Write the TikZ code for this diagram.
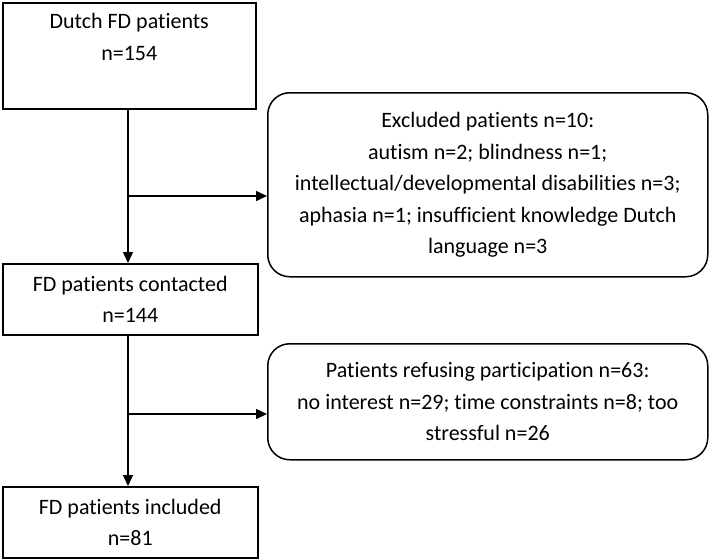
\documentclass[tikz,border=0pt]{standalone}
\usepackage{fontspec}
\setmainfont{Carlito}[Ligatures=NoCommon]
\usetikzlibrary{arrows.meta}

\begin{document}
\begin{tikzpicture}[x=1pt, y=-1pt, line width=1.5pt,
  every node/.style={font=\fontsize{22}{31.5}\selectfont, align=center, inner sep=0pt},
  box/.style={draw, rectangle, anchor=north west},
  roundbox/.style={draw, rectangle, rounded corners=22pt, anchor=north west},
  arr/.style={-{Triangle[length=11pt, width=10pt]}}]
  \useasboundingbox (0,0) rectangle (710,558);
  \node[box, minimum width=253pt, minimum height=106pt, text depth=38pt] (all) at (2,2) {Dutch FD patients\\n=154};
  \node[box, minimum width=255pt, minimum height=71pt] (contacted) at (2,263) {FD patients contacted\\n=144};
  \node[box, minimum width=255pt, minimum height=71pt] (included) at (2,486) {FD patients included\\n=81};
  \node[roundbox, minimum width=440pt, minimum height=184pt] (excluded) at (267,92) {Excluded patients n=10:\\autism n=2; blindness n=1;\\intellectual/developmental disabilities n=3;\\aphasia n=1; insufficient knowledge Dutch\\language n=3};
  \node[roundbox, minimum width=440pt, minimum height=116pt] (refused) at (267,343) {Patients refusing participation n=63:\\no interest n=29; time constraints n=8; too\\stressful n=26};
  % main flow
  \coordinate (top1) at (128,108);
  \coordinate (top2) at (128,334);
  \draw[arr] (top1) -- (top1 |- contacted.north);
  \draw[arr] (top2) -- (top2 |- included.north);
  % side arrows
  \coordinate (split1) at (128,196);
  \coordinate (split2) at (128,414);
  \draw[arr] (split1) -- (split1 -| excluded.west);
  \draw[arr] (split2) -- (split2 -| refused.west);
\end{tikzpicture}
\end{document}
